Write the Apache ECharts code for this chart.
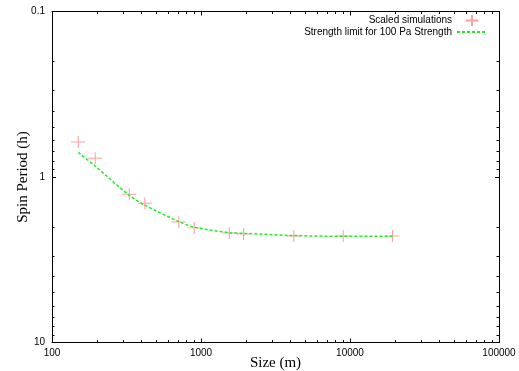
<!DOCTYPE html>
<html><head><meta charset="utf-8">
<script src="https://cdn.jsdelivr.net/npm/echarts@6/dist/echarts.min.js"></script>
<style>html,body{margin:0;padding:0;background:#fff}#c{width:519px;height:371px}</style>
</head><body><div id="c"></div>
<script>
const simSize = [150, 195, 330, 420, 710, 900, 1550, 1930, 4200, 9000, 19300];
const simPeriod = [0.615, 0.77, 1.27, 1.44, 1.87, 2.03, 2.18, 2.21, 2.27, 2.27, 2.27];
const limitSize = [150, 195, 330, 420, 710, 900, 1550, 1930, 4200, 9000, 19300];
const limitPeriod = [0.71, 0.86, 1.29, 1.48, 1.86, 2.01, 2.17, 2.19, 2.26, 2.28, 2.28];
const xMajor = [100, 1000, 10000, 100000];
const yMajor = [0.1, 1, 10];
const seriesNames = ['Scaled simulations', 'Strength limit for 100 Pa Strength'];

function minors(major) {
  const out = [];
  for (let i = 0; i < major.length - 1; i++) {
    for (let k = 2; k <= 9; k++) out.push(+(major[i] * k).toPrecision(6));
  }
  return out;
}
const xMinor = minors(xMajor);
const yMinor = minors(yMajor);

const AX = '#000';
const tickFont = { fontFamily: 'Liberation Sans, Arial, sans-serif', fontSize: 10, color: '#000' };
const nameFont = { fontFamily: 'Liberation Serif, Times New Roman, serif', fontSize: 15, color: '#000' };

function xAx(pos, ticks, len, main) {
  return {
    type: 'log', logBase: 10, min: 100, max: 100000, position: pos,
    axisLine: { show: main, lineStyle: { color: AX, width: 1 } },
    axisTick: { show: true, inside: true, length: len, customValues: ticks, lineStyle: { color: AX, width: 1 } },
    axisLabel: main && pos === 'bottom' ? Object.assign({ show: true, customValues: xMajor, margin: 6, formatter: v => String(v) }, tickFont) : { show: false },
    splitLine: { show: false }, minorTick: { show: false },
    name: main && pos === 'bottom' ? 'Size (m)' : '',
    nameLocation: 'middle', nameGap: 13, nameMoveOverlap: false, nameTextStyle: nameFont
  };
}
function yAx(pos, ticks, len, main) {
  return {
    type: 'log', logBase: 10, min: 0.1, max: 10, inverse: true, position: pos,
    axisLine: { show: main, lineStyle: { color: AX, width: 1 } },
    axisTick: { show: true, inside: true, length: len, customValues: ticks, lineStyle: { color: AX, width: 1 } },
    axisLabel: main && pos === 'left' ? Object.assign({ show: true, customValues: yMajor, margin: 7, formatter: v => String(v) }, tickFont) : { show: false },
    splitLine: { show: false }, minorTick: { show: false },
    name: main && pos === 'left' ? 'Spin Period (h)' : '',
    nameLocation: 'middle', nameGap: 21, nameMoveOverlap: false, nameTextStyle: nameFont
  };
}

const chart = echarts.init(document.getElementById('c'), null, { renderer: 'canvas' });
chart.setOption({
  animation: false,
  backgroundColor: '#fff',
  grid: { left: 52, right: 20, top: 11.5, bottom: 28.5, containLabel: false, outerBoundsMode: 'none' },
  xAxis: [
    xAx('bottom', xMajor, 4, true), xAx('bottom', xMinor, 2.5, false),
    xAx('top', xMajor, 4, true), xAx('top', xMinor, 2.5, false)
  ],
  yAxis: [
    yAx('left', yMajor, 4, true), yAx('left', yMinor, 2.5, false),
    yAx('right', yMajor, 4, true), yAx('right', yMinor, 2.5, false)
  ],
  legend: {
    orient: 'vertical', right: 31, top: 14, align: 'right',
    itemWidth: 30, itemHeight: 11, itemGap: 0, padding: 0,
    textStyle: Object.assign({}, tickFont),
    data: [
      { name: seriesNames[0] },
      { name: seriesNames[1], itemStyle: { color: 'rgba(0,0,0,0)', borderColor: 'rgba(0,0,0,0)', borderWidth: 0 } }
    ]
  },
  series: [
    {
      name: seriesNames[0], type: 'scatter',
      symbol: 'path://M0,6L14,6M7,0L7,12', symbolSize: [14, 12],
      itemStyle: { color: '#ff8a8a', borderColor: '#ff8a8a', borderWidth: 1 },
      data: simSize.map((s, i) => [s, simPeriod[i]]),
      z: 3
    },
    {
      name: seriesNames[1], type: 'line', symbol: 'none', smooth: 0.3,
      lineStyle: { color: '#22ee22', width: 1.5, type: [3, 2] },
      itemStyle: { color: '#22ee22' },
      data: limitSize.map((s, i) => [s, limitPeriod[i]]),
      z: 4
    }
  ]
});
</script></body></html>
